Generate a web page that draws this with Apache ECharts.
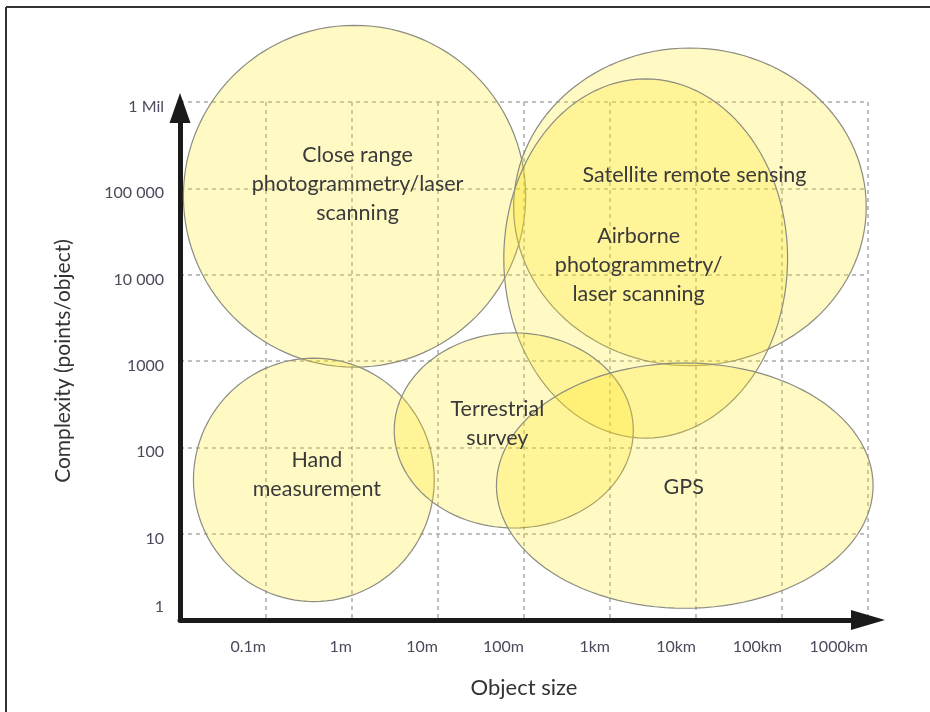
<!DOCTYPE html>
<html>
<head>
<meta charset="utf-8">
<script src="https://cdn.jsdelivr.net/npm/echarts@6/dist/echarts.min.js"></script>
<style>
  html, body { margin: 0; padding: 0; background: #fff; }
  #chart-container { width: 930px; height: 712px; }
</style>
</head>
<body>
<div id="chart-container"></div>
<script>
// methods: centre (object size in m, points/object) and half-spread in decades
var methods = ['Close range', 'Satellite', 'Airborne', 'Hand', 'Terrestrial', 'GPS'];
var sizeCenter = [1.07, 8500, 2600, 0.36, 76, 7400];
var pointsCenter = [81000, 61000, 15400, 42, 157, 36];
var spreadX = [1.99, 2.05, 1.65, 1.40, 1.39, 2.19];
var spreadY = [1.98, 1.84, 2.08, 1.41, 1.13, 1.42];

// label texts and where they sit
var labelText = [
  'Close range\nphotogrammetry/laser\nscanning',
  'Satellite remote sensing',
  'Airborne\nphotogrammetry/\nlaser scanning',
  'Hand\nmeasurement',
  'Terrestrial\nsurvey',
  'GPS'
];
var labelSize = [1.16, 9600, 2150, 0.39, 49, 7200];
var labelPoints = [112000, 142000, 13000, 48, 190, 35];

// tick labels
var xTickValues = [0.01, 0.1, 1, 10, 100, 1000, 10000, 100000, 1000000];
var xTickLabels = ['', '0.1m', '1m', '10m', '100m', '1km', '10km', '100km', '1000km'];
var yTickValues = [1, 10, 100, 1000, 10000, 100000, 1000000];
var yTickLabels = ['1', '10', '100', '1000', '10 000', '100 000', '1 Mil'];

var dom = document.getElementById('chart-container');
var myChart = echarts.init(dom, null, { renderer: 'canvas' });

function findLabel(v, values, labels) {
  for (var i = 0; i < values.length; i++) {
    if (Math.abs(Math.log10(v) - Math.log10(values[i])) < 1e-6) return labels[i];
  }
  return '';
}

var ellipseData = methods.map(function (m, i) {
  return [sizeCenter[i], pointsCenter[i], spreadX[i], spreadY[i]];
});
var labelData = labelText.map(function (t, i) {
  return [labelSize[i], labelPoints[i], t];
});

var font = 'Lato, "Open Sans", sans-serif';
var tickColor = '#4a4a5c';

var option = {
  backgroundColor: '#fff',
  animation: false,
  grid: { left: 180, right: 62, top: 102, bottom: 92 },
  graphic: [
    { type: 'line', shape: { x1: 6, y1: 7, x2: 6, y2: 712 }, style: { stroke: '#333', lineWidth: 2 } },
    { type: 'line', shape: { x1: 6, y1: 7, x2: 930, y2: 7 }, style: { stroke: '#333', lineWidth: 2 } }
  ],
  xAxis: {
    type: 'log',
    logBase: 10,
    min: 0.01,
    max: 1000000,
    name: 'Object size',
    nameLocation: 'middle',
    nameGap: 57,
    nameTextStyle: { fontFamily: font, fontSize: 22, color: '#333' },
    axisLine: {
      lineStyle: { color: '#1a1a1a', width: 5 },
      symbol: ['none', 'triangle'],
      symbolSize: [20, 34],
      symbolOffset: [0, 0]
    },
    axisTick: { show: false },
    axisLabel: {
      fontFamily: font, fontSize: 16, color: tickColor,
      align: 'right', margin: 19,
      formatter: function (v) { return findLabel(v, xTickValues, xTickLabels); }
    },
    splitLine: { show: true, lineStyle: { color: '#aaa', width: 1.5, type: [4, 4] } }
  },
  yAxis: {
    type: 'log',
    logBase: 10,
    min: 1,
    max: 1000000,
    name: 'Complexity (points/object)',
    nameLocation: 'middle',
    nameGap: 106,
    nameRotate: 90,
    nameTextStyle: { fontFamily: font, fontSize: 21, color: '#333' },
    axisLine: {
      lineStyle: { color: '#1a1a1a', width: 5 },
      symbol: ['none', 'triangle'],
      symbolSize: [21, 30],
      symbolOffset: [0, -6]
    },
    axisTick: { show: false },
    axisLabel: {
      fontFamily: font, fontSize: 16, color: tickColor, margin: 16,
      formatter: function (v) {
        var s = findLabel(v, yTickValues, yTickLabels);
        return v < 2 ? '{one|' + s + '}' : '{n|' + s + '}';
      },
      rich: {
        n: { fontFamily: font, fontSize: 16, color: tickColor, padding: [10, 0, 0, 0] },
        one: { fontFamily: font, fontSize: 16, color: tickColor, padding: [0, 0, 26, 0] }
      }
    },
    splitLine: { show: true, lineStyle: { color: '#aaa', width: 1.5, type: [4, 4] } }
  },
  series: [
    {
      type: 'custom',
      name: 'methods',
      clip: false,
      encode: { x: 0, y: 1 },
      data: ellipseData,
      renderItem: function (params, api) {
        var cx = Math.log10(api.value(0));
        var cy = Math.log10(api.value(1));
        var rx = api.value(2);
        var ry = api.value(3);
        var pts = [];
        for (var k = 0; k < 120; k++) {
          var t = (k / 120) * Math.PI * 2;
          pts.push(api.coord([
            Math.pow(10, cx + rx * Math.cos(t)),
            Math.pow(10, cy + ry * Math.sin(t))
          ]));
        }
        return {
          type: 'polygon',
          shape: { points: pts },
          style: { fill: 'rgba(255, 232, 20, 0.25)', stroke: '#8c8c80', lineWidth: 1.2 }
        };
      },
      z: 2
    },
    {
      type: 'custom',
      name: 'labels',
      clip: false,
      encode: { x: 0, y: 1 },
      data: labelData,
      renderItem: function (params, api) {
        var p = api.coord([api.value(0), api.value(1)]);
        return {
          type: 'text',
          x: p[0],
          y: p[1],
          style: {
            text: labelText[params.dataIndex],
            fontFamily: font,
            fontSize: 21.5,
            lineHeight: 29,
            fill: '#3a3a3a',
            align: 'center',
            verticalAlign: 'middle'
          }
        };
      },
      z: 5
    }
  ]
};

myChart.setOption(option);
window.addEventListener('resize', myChart.resize);
</script>
</body>
</html>
